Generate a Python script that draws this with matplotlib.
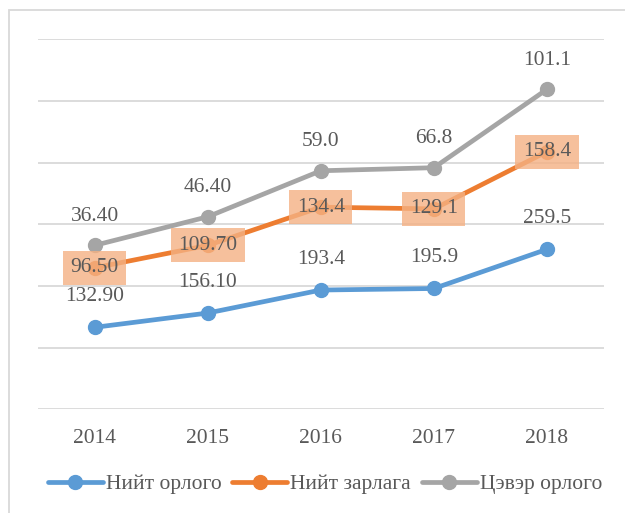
import numpy as np
import matplotlib.pyplot as plt
from matplotlib.patches import Rectangle

years = ['2014', '2015', '2016', '2017', '2018']
total_income = [132.9, 156.1, 193.4, 195.9, 259.5]
total_expense = [96.5, 109.7, 134.4, 129.1, 158.4]
net_income = [36.4, 46.4, 59.0, 66.8, 101.1]
income_labels = ['132.90', '156.10', '193.4', '195.9', '259.5']
expense_labels = ['96.50', '109.70', '134.4', '129.1', '158.4']
net_labels = ['36.40', '46.40', '59.0', '66.8', '101.1']
series_names = ['Нийт орлого', 'Нийт зарлага', 'Цэвэр орлого']

plt.rcParams['font.family'] = ['Liberation Serif', 'DejaVu Serif']
text_color = '#595959'
colors = ['#5B9BD5', '#ED7D31', '#A5A5A5']

# stacked line chart (Excel style)
s1 = np.array(total_income)
s2 = s1 + np.array(total_expense)
s3 = s2 + np.array(net_income)
x = np.arange(len(years))

W, H = 625, 513
fig = plt.figure(figsize=(W / 100, H / 100), dpi=100)
fig.patches.append(Rectangle((8.5 / W, -0.1), 1.2, 1.1 - 10.5 / H, transform=fig.transFigure,
                             fill=False, edgecolor='#D9D9D9', linewidth=1.3))
ax = fig.add_axes([38 / W, (H - 409.3) / H, (603.6 - 38) / W, 370 / H])

for ys, c, name in zip([s1, s2, s3], colors, series_names):
    ax.plot(x, ys, color=c, linewidth=3.4, marker='o', markersize=10,
            solid_capstyle='round', label=name, zorder=3)

for i in range(len(years)):
    ax.annotate(income_labels[i], (x[i], s1[i]), xytext=(0, 22), textcoords='offset points',
                ha='center', va='center', fontsize=15.5, color=text_color, zorder=5)
    ax.annotate(expense_labels[i], (x[i], s2[i]), xytext=(0, 0), textcoords='offset points',
                ha='center', va='center', fontsize=15.5, color=text_color, zorder=5,
                bbox=dict(boxstyle='square,pad=0.35', facecolor='#F4B183', edgecolor='none', alpha=0.8))
    ax.annotate(net_labels[i], (x[i], s3[i]), xytext=(0, 21), textcoords='offset points',
                ha='center', va='center', fontsize=15.5, color=text_color, zorder=5)

ax.set_xlim(-0.5, 4.5)
ax.set_ylim(0, 600)
ax.set_yticks(np.arange(0, 601, 100))
ax.yaxis.grid(True, color='#D9D9D9', linewidth=1.3)
ax.set_axisbelow(True)
ax.tick_params(axis='y', left=False, labelleft=False)
ax.set_xticks(x)
ax.set_xticklabels(years, fontsize=15.5, color=text_color)
ax.tick_params(axis='x', length=0, pad=14)
for sp in ax.spines.values():
    sp.set_visible(False)

leg = fig.legend(loc='center', bbox_to_anchor=(325 / W, (H - 484) / H), ncol=3, frameon=False,
                 fontsize=15.5, handlelength=2.55, handletextpad=0.15, columnspacing=0.5,
                 labelcolor=text_color)

fig.savefig('out.png', dpi=100)
